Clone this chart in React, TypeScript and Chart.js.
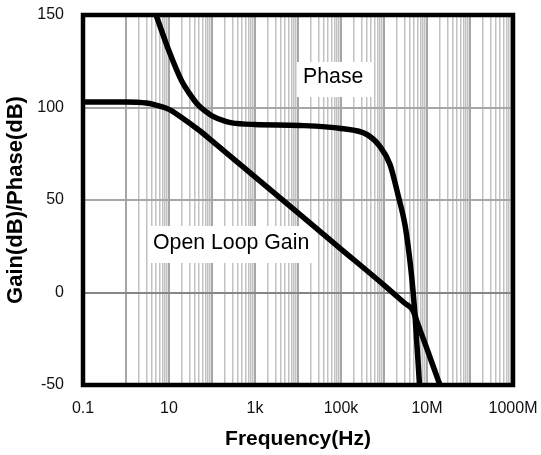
import React, { useEffect, useRef } from 'react';
import { Chart, registerables } from 'chart.js';

Chart.register(...registerables);

// Open loop gain (dB) vs frequency (Hz)
const gainFreq = [0.1, 1, 3, 5, 10, 20, 50, 100, 1e3, 1e4, 1e5, 1e6, 3e6, 4.7e6, 6e6, 1e7, 1.4e7, 2e7];
const gainDb = [103, 103, 102.4, 101.3, 99, 94.5, 87.7, 82, 62.5, 43, 23.5, 4, -5.7, -9.7, -16.5, -30.5, -40, -50];

// Phase vs frequency (Hz)
const phaseFreq = [5, 10, 20, 30, 45, 70, 100, 200, 290, 1000, 1.1e4, 1e5, 4e5, 8e5, 1.38e6, 2.12e6, 3.08e6, 3.81e6, 4.48e6, 5.26e6, 6.7e6];
const phaseVal = [150, 130.5, 114, 107.5, 102, 98, 95.5, 92.6, 91.7, 90.8, 90.3, 88.6, 85.4, 79, 69.2, 52.7, 36.5, 21.4, 6.8, -12.2, -50];

const xTickValues = [0.1, 10, 1e3, 1e5, 1e7, 1e9];
const xTickLabels = ['0.1', '10', '1k', '100k', '10M', '1000M'];
const yMin = -50;
const yMax = 150;
const yStep = 50;

const FONT = "'Liberation Sans', Arial, sans-serif";

export default function App() {
  const ref = useRef<HTMLCanvasElement>(null);

  useEffect(() => {
    document.body.style.margin = '0';
    const canvas = ref.current;
    if (!canvas) return;

    const gridVals: number[] = [0.1];
    for (let k = 0; k <= 8; k++) {
      for (let m = 1; m <= 9; m++) gridVals.push(m * Math.pow(10, k));
    }
    gridVals.push(1e9);

    const isDecade = (v: number) => Math.abs(Math.log10(v) - Math.round(Math.log10(v))) < 1e-9;

    const decor = {
      id: 'decor',
      beforeDatasetsDraw(chart: any) {
        const ctx = chart.ctx;
        ctx.save();
        ctx.fillStyle = '#ffffff';
        ctx.fillRect(297, 62, 75, 35);
        ctx.fillRect(151, 226, 164, 37);
        ctx.fillStyle = '#000000';
        ctx.font = `21.3px ${FONT}`;
        ctx.textBaseline = 'middle';
        ctx.textAlign = 'left';
        ctx.fillText('Phase', 303, 77);
        ctx.fillText('Open Loop Gain', 153, 243);
        ctx.restore();
      },
      afterDatasetsDraw(chart: any) {
        const { left, top, right, bottom } = chart.chartArea;
        const ctx = chart.ctx;
        ctx.save();
        ctx.strokeStyle = '#000000';
        ctx.lineWidth = 4.5;
        ctx.strokeRect(left, top, right - left, bottom - top);
        ctx.restore();
      },
    };

    const lineStyle = {
      borderColor: '#000000',
      borderWidth: 5.5,
      pointRadius: 0,
      fill: false,
      cubicInterpolationMode: 'monotone',
      borderCapStyle: 'butt',
      borderJoinStyle: 'round',
    };

    const chart = new Chart(canvas, {
      type: 'line',
      data: {
        datasets: [
          {
            label: 'Open Loop Gain',
            data: gainFreq.map((f, i) => ({ x: f, y: gainDb[i] })),
            ...lineStyle,
          },
          {
            label: 'Phase',
            data: phaseFreq.map((f, i) => ({ x: f, y: phaseVal[i] })),
            ...lineStyle,
          },
        ],
      },
      options: {
        responsive: false,
        animation: false,
        layout: { padding: { top: 15, right: 28, left: 0, bottom: 0 } },
        plugins: { legend: { display: false }, tooltip: { enabled: false } },
        scales: {
          x: {
            type: 'logarithmic',
            min: 0.1,
            max: 1e9,
            afterBuildTicks: (s: any) => {
              s.ticks = gridVals.map((v) => ({ value: v }));
            },
            afterFit: (s: any) => {
              s.height = 70;
              s.paddingLeft = 0;
              s.paddingRight = 0;
            },
            ticks: {
              autoSkip: false,
              maxRotation: 0,
              minRotation: 0,
              padding: 14,
              color: '#111111',
              font: { family: FONT, size: 16 },
              callback: (v: any) => {
                const i = xTickValues.findIndex((t) => Math.abs(Math.log10(t) - Math.log10(Number(v))) < 1e-6);
                return i >= 0 ? xTickLabels[i] : '';
              },
            },
            grid: {
              drawTicks: false,
              lineWidth: (c: any) => {
                const v = c.tick ? c.tick.value : 1;
                return isDecade(v) ? 2 : 1.5;
              },
              color: (c: any) => {
                const v = c.tick ? c.tick.value : 1;
                if (v < 1) return 'rgba(0,0,0,0)';
                return isDecade(v) ? '#a6a6a6' : '#c2c2c2';
              },
            },
            border: { display: false },
            title: {
              display: true,
              text: 'Frequency(Hz)',
              color: '#000000',
              font: { family: FONT, size: 21, weight: 'bold' },
              padding: { top: 0, bottom: 3 },
            },
          },
          y: {
            min: yMin,
            max: yMax,
            afterFit: (s: any) => {
              s.width = 83;
              s.paddingTop = 0;
              s.paddingBottom = 0;
            },
            ticks: {
              stepSize: yStep,
              padding: 19,
              color: '#111111',
              font: { family: FONT, size: 16 },
            },
            grid: {
              drawTicks: false,
              lineWidth: 2,
              color: (c: any) => (c.tick && c.tick.value === 0 ? '#868686' : '#a6a6a6'),
            },
            border: { display: false },
            title: {
              display: true,
              text: 'Gain(dB)/Phase(dB)',
              color: '#000000',
              font: { family: FONT, size: 22, weight: 'bold' },
              padding: { top: 3, bottom: 0 },
            },
          },
        },
      },
      plugins: [decor],
    } as any);

    return () => chart.destroy();
  }, []);

  return (
    <canvas
      ref={ref}
      width={541}
      height={455}
      style={{ display: 'block', position: 'absolute', left: 0, top: 0, width: 541, height: 455 }}
    />
  );
}
